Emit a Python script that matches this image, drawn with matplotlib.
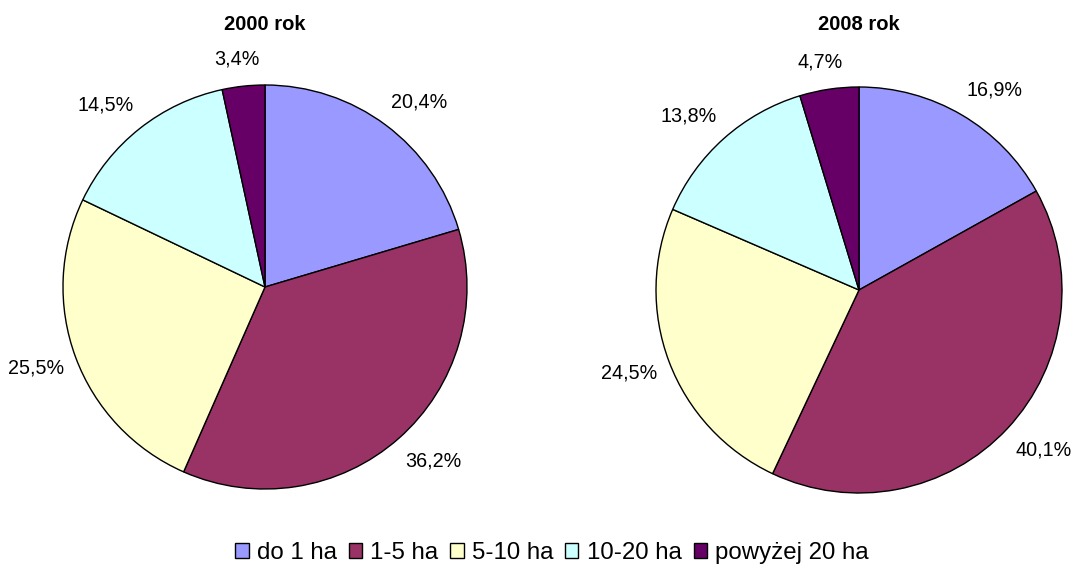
import numpy as np
import matplotlib
matplotlib.use("Agg")
from matplotlib import pyplot as plt

plt.rcParams['font.family'] = ['Liberation Sans', 'DejaVu Sans']

categories = ['do 1 ha', '1-5 ha', '5-10 ha', '10-20 ha', 'powyżej 20 ha']
colors = ['#9999FF', '#993366', '#FFFFCC', '#CCFFFF', '#660066']
years = ['2000 rok', '2008 rok']
shares_2000 = [20.4, 36.2, 25.5, 14.5, 3.4]
shares_2008 = [16.9, 40.1, 24.5, 13.8, 4.7]

W, H = 1072, 578
fig = plt.figure(figsize=(W / 100, H / 100), dpi=100)

# pie centre (px) and radius (px) for each panel
panels = [((265, 287), 202, shares_2000, years[0]),
          ((859, 290), 203, shares_2008, years[1])]

for (cx, cy), r, vals, title in panels:
    ax = fig.add_axes([(cx - r) / W, (H - cy - r) / H, 2 * r / W, 2 * r / H])
    wedges, _ = ax.pie(vals, colors=colors, startangle=90, counterclock=False,
                       wedgeprops=dict(edgecolor='black', linewidth=1.0))
    ax.set_xlim(-1, 1)
    ax.set_ylim(-1, 1)
    ax.set_aspect('equal')
    ax.axis('off')
    # labels: fixed gap outside the edge, then pushed sideways like excel does
    gap, hx, hy = 0.089, 0.114, 0.045
    for w, v in zip(wedges, vals):
        a = np.deg2rad((w.theta1 + w.theta2) / 2)
        ux, uy = np.cos(a), np.sin(a)
        tx = (1 + gap) * ux + hx * np.sign(ux) * min(1, abs(ux) / 0.5)
        ty = (1 + gap) * uy + hy * np.sign(uy) * min(1, abs(uy) / 0.7)
        ax.text(tx, ty, f"{v:.1f}%".replace('.', ','), ha='center', va='center',
                fontsize=14.2, clip_on=False)
    fig.text(cx / W, 1 - 25 / H, title, ha='center', va='center',
             fontsize=14.5, fontweight='bold')

handles = [plt.Rectangle((0, 0), 1, 1, facecolor=c, edgecolor='black', linewidth=1.0)
           for c in colors]
fig.legend(handles, categories, loc='center', bbox_to_anchor=(552 / W, 1 - 553 / H),
           ncol=5, frameon=False, fontsize=17.3, handlelength=0.55, handleheight=0.55,
           handletextpad=0.34, columnspacing=0.5, borderpad=0)

fig.savefig('out.png', dpi=100)
